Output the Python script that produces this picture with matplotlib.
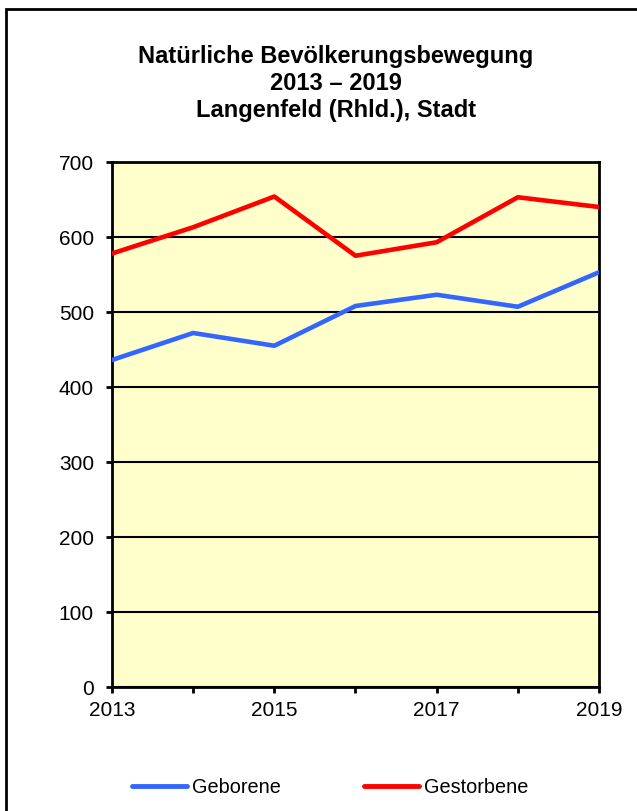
import matplotlib
matplotlib.use("Agg")
import matplotlib.pyplot as plt
from matplotlib.patches import Rectangle

plt.rcParams['font.family'] = ['Liberation Sans', 'DejaVu Sans']

# data
years = [2013, 2014, 2015, 2016, 2017, 2018, 2019]
geborene = [436, 472, 455, 508, 523, 507, 553]
gestorbene = [578, 613, 654, 575, 593, 653, 640]
xlabels = ['2013', '', '2015', '', '2017', '', '2019']
yticks = [0, 100, 200, 300, 400, 500, 600, 700]
title_lines = ['Natürliche Bevölkerungsbewegung', '2013 – 2019', 'Langenfeld (Rhld.), Stadt']

W, H = 637, 812
fig = plt.figure(figsize=(W / 100, H / 100), dpi=100)

# outer frame (runs off right and bottom edge)
fig.patches.append(Rectangle((6.5 / W, -0.05), 1.2, 1 - 10 / H + 0.05,
                             transform=fig.transFigure, fill=False,
                             edgecolor='black', linewidth=2.0))

ax = fig.add_axes([112 / W, 1 - 688 / H, (599 - 112) / W, (688 - 163) / H])
ax.set_facecolor('#FFFFCC')

ax.plot(years, geborene, color='#3366FF', lw=3.3, label='Geborene', zorder=3)
ax.plot(years, gestorbene, color='#FF0000', lw=3.3, label='Gestorbene', zorder=3)

ax.set_xlim(2013, 2019)
ax.set_ylim(0, 700)
ax.set_xticks(years)
ax.set_xticklabels(xlabels)
ax.set_yticks(yticks)
ax.yaxis.grid(True, color='black', lw=1.5)
ax.set_axisbelow(True)
for s in ax.spines.values():
    s.set_linewidth(2.0)
ax.tick_params(axis='both', labelsize=15, width=2.0, length=4.5, direction='out')
ax.tick_params(axis='y', pad=8.5)
ax.tick_params(axis='x', pad=5)

# title, one line at a time (baselines)
for i, t in enumerate(title_lines):
    fig.text(336 / W, 1 - (62.5 + 27.5 * i) / H, t, ha='center', va='baseline',
             fontsize=17, fontweight='bold')

leg = fig.legend(loc='center', bbox_to_anchor=(330 / W, 1 - 788 / H), ncol=2,
                 frameon=False, fontsize=14.3, handlelength=2.77,
                 handletextpad=0.25, columnspacing=4.2)
for ln in leg.get_lines():
    ln.set_solid_capstyle('round')
    ln.set_linewidth(3.5)

fig.savefig('out.png', dpi=100)
